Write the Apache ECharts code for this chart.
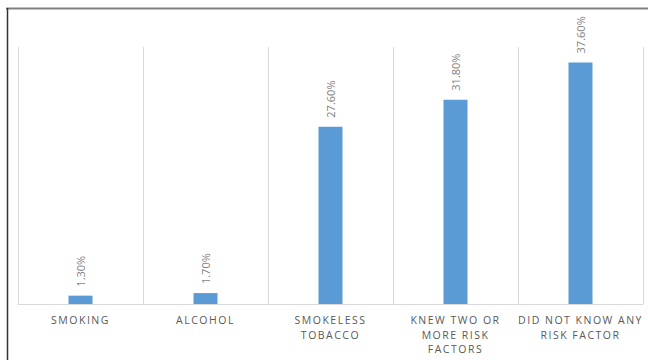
<!DOCTYPE html>
<html>
<head>
<meta charset="utf-8">
<script src="https://cdn.jsdelivr.net/npm/echarts@6/dist/echarts.min.js"></script>
<style>
html,body{margin:0;padding:0;background:#fff;}
#chart{width:648px;height:360px;}
</style>
</head>
<body>
<div id="chart"></div>
<script>
const categories = ["SMOKING", "ALCOHOL", "SMOKELESS\nTOBACCO", "KNEW TWO OR\nMORE RISK\nFACTORS", "DID NOT KNOW ANY\nRISK FACTOR"];
const values = [1.3, 1.7, 27.6, 31.8, 37.6];
const yMin = 0, yMax = 40;

const chart = echarts.init(document.getElementById('chart'), null, {renderer: 'svg'});
const option = {
  animation: false,
  backgroundColor: '#ffffff',
  grid: {left: 18, right: 5, top: 47, bottom: 56, containLabel: false},
  xAxis: {
    type: 'category',
    data: categories,
    axisLine: {show: true, lineStyle: {color: '#d9d9d9', width: 1}},
    axisTick: {show: false},
    splitLine: {show: true, lineStyle: {color: '#d9d9d9', width: 1}},
    axisLabel: {
      interval: 0,
      margin: 9,
      fontFamily: 'Open Sans',
      fontSize: 10.5,
      lineHeight: 14.5,
      color: '#595959'
    }
  },
  yAxis: {
    type: 'value', min: yMin, max: yMax, show: false,
    splitLine: {show: false}
  },
  series: [{
    type: 'bar',
    data: values,
    barWidth: 24,
    itemStyle: {color: '#5b9bd5'},
    label: {
      show: true,
      position: 'top',
      rotate: 90,
      align: 'left',
      verticalAlign: 'middle',
      distance: 9,
      fontFamily: 'Open Sans',
      fontSize: 11,
      color: '#7f7f7f',
      formatter: p => p.value.toFixed(2) + '%'
    }
  }],
  graphic: [
    {type: 'line', shape: {x1: 6, y1: 8.5, x2: 648, y2: 8.5}, style: {stroke: '#808080', lineWidth: 2}, silent: true},
    {type: 'line', shape: {x1: 7.5, y1: 8, x2: 7.5, y2: 360}, style: {stroke: '#333333', lineWidth: 1.5}, silent: true}
  ]
};
chart.setOption(option);
function spaceLabels(){
  document.querySelectorAll('#chart text').forEach(t => {
    if (t.textContent.indexOf('%') < 0) t.style.letterSpacing = '1.5px';
  });
}
spaceLabels();
chart.on('finished', spaceLabels);
</script>
</body>
</html>
